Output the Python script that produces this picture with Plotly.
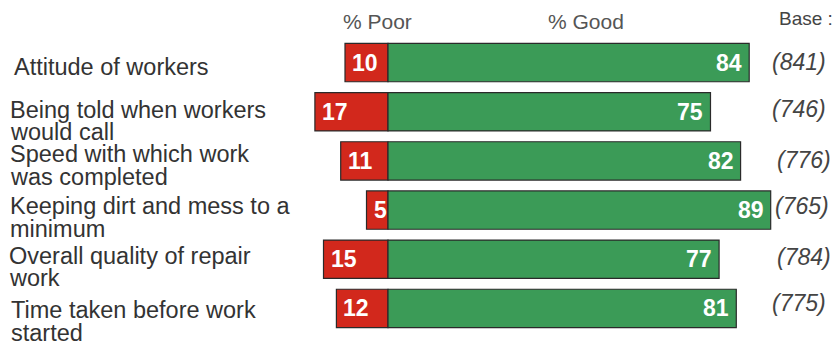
import plotly.graph_objects as go

# ---------------- data ----------------
categories = [
    ["Attitude of workers"],
    ["Being told when workers", "would call"],
    ["Speed with which work", "was completed"],
    ["Keeping dirt and mess to a", "minimum"],
    ["Overall quality of repair", "work"],
    ["Time taken before work", "started"],
]
pct_poor = [10, 17, 11, 5, 15, 12]
pct_good = [84, 75, 82, 89, 77, 81]
base_n = [841, 746, 776, 765, 784, 775]
header_poor = "% Poor"
header_good = "% Good"
header_base = "Base :"

# ---------------- layout constants ----------------
WIDTH, HEIGHT = 840, 347
L, R, T, B = 302, 0, 38, 14
PW, PH = WIDTH - L - R, HEIGHT - T - B
XMIN, XMAX = -20, 105.12

RED = "#d2281c"
GREEN = "#3b9b57"
EDGE = "#2a2a2a"
FONT = "Liberation Sans, Arial, sans-serif"

n = len(categories)
rows = list(range(n))

def px_x(xp):
    return (xp - L) / PW

def px_y(yp):
    return 1 - (yp - T) / PH

def row_center_px(i):
    return T + (i + 0.5) * PH / n

fig = go.Figure()
fig.add_trace(go.Bar(
    y=rows, x=[-v for v in pct_poor], orientation="h",
    marker=dict(color=RED, line=dict(color=EDGE, width=1.2)),
    width=0.78, hoverinfo="skip", showlegend=False,
))
fig.add_trace(go.Bar(
    y=rows, x=pct_good, orientation="h",
    marker=dict(color=GREEN, line=dict(color=EDGE, width=1.2)),
    width=0.78, hoverinfo="skip", showlegend=False,
))

ann = []
# value labels inside bars
for i in rows:
    ann.append(dict(x=-pct_poor[i], y=i, xref="x", yref="y", text=str(pct_poor[i]),
                    xanchor="left", yanchor="middle", xshift=5, showarrow=False,
                    font=dict(family=FONT, size=23, color="white", weight="bold")))
    ann.append(dict(x=pct_good[i], y=i, xref="x", yref="y", text=str(pct_good[i]),
                    xanchor="right", yanchor="middle", xshift=-5, showarrow=False,
                    font=dict(family=FONT, size=23, color="white", weight="bold")))

# category labels (one annotation per line for tight leading)
line1_offset = [4, -2, -7, -4, -3.5, 1.5]
line_gap = 22.7
label_left = [12, 8, 8, 8, 7, 9]
for i in rows:
    for k, line in enumerate(categories[i]):
        yp = row_center_px(i) + line1_offset[i] + k * line_gap
        ann.append(dict(x=px_x(label_left[i]), y=px_y(yp), xref="paper", yref="paper",
                        text=line, xanchor="left", yanchor="middle", showarrow=False,
                        font=dict(family=FONT, size=23.5, color="#333333")))

# base values
base_left = [770, 770, 775, 773, 775, 770]
base_offset = [-1, -3, -1, -4.5, -2.5, -5]
for i in rows:
    yp = row_center_px(i) + base_offset[i]
    ann.append(dict(x=px_x(base_left[i]), y=px_y(yp), xref="paper", yref="paper",
                    text=f"<i>({base_n[i]})</i>", xanchor="left", yanchor="middle",
                    showarrow=False,
                    font=dict(family=FONT, size=23, color="#444444")))

# headers
ann.append(dict(x=px_x(377), y=px_y(21), xref="paper", yref="paper", text=header_poor,
                xanchor="center", yanchor="middle", showarrow=False,
                font=dict(family=FONT, size=21, color="#555555")))
ann.append(dict(x=px_x(586), y=px_y(21), xref="paper", yref="paper", text=header_good,
                xanchor="center", yanchor="middle", showarrow=False,
                font=dict(family=FONT, size=21, color="#555555")))
ann.append(dict(x=px_x(835), y=px_y(19), xref="paper", yref="paper", text=header_base,
                xanchor="right", yanchor="middle", showarrow=False,
                font=dict(family=FONT, size=19, color="#444444")))

fig.update_layout(
    width=WIDTH, height=HEIGHT,
    margin=dict(l=L, r=R, t=T, b=B),
    paper_bgcolor="white", plot_bgcolor="white",
    barmode="relative",
    xaxis=dict(range=[XMIN, XMAX], showgrid=False, zeroline=False,
               showticklabels=False, showline=False, fixedrange=True),
    yaxis=dict(range=[n - 0.5, -0.5], showgrid=False, zeroline=False,
               showticklabels=False, showline=False, fixedrange=True),
    annotations=ann,
)

fig.write_html(
    "out.html",
    config={"displayModeBar": False},
    post_script="document.body.style.margin='0';document.body.style.overflow='hidden';",
)
